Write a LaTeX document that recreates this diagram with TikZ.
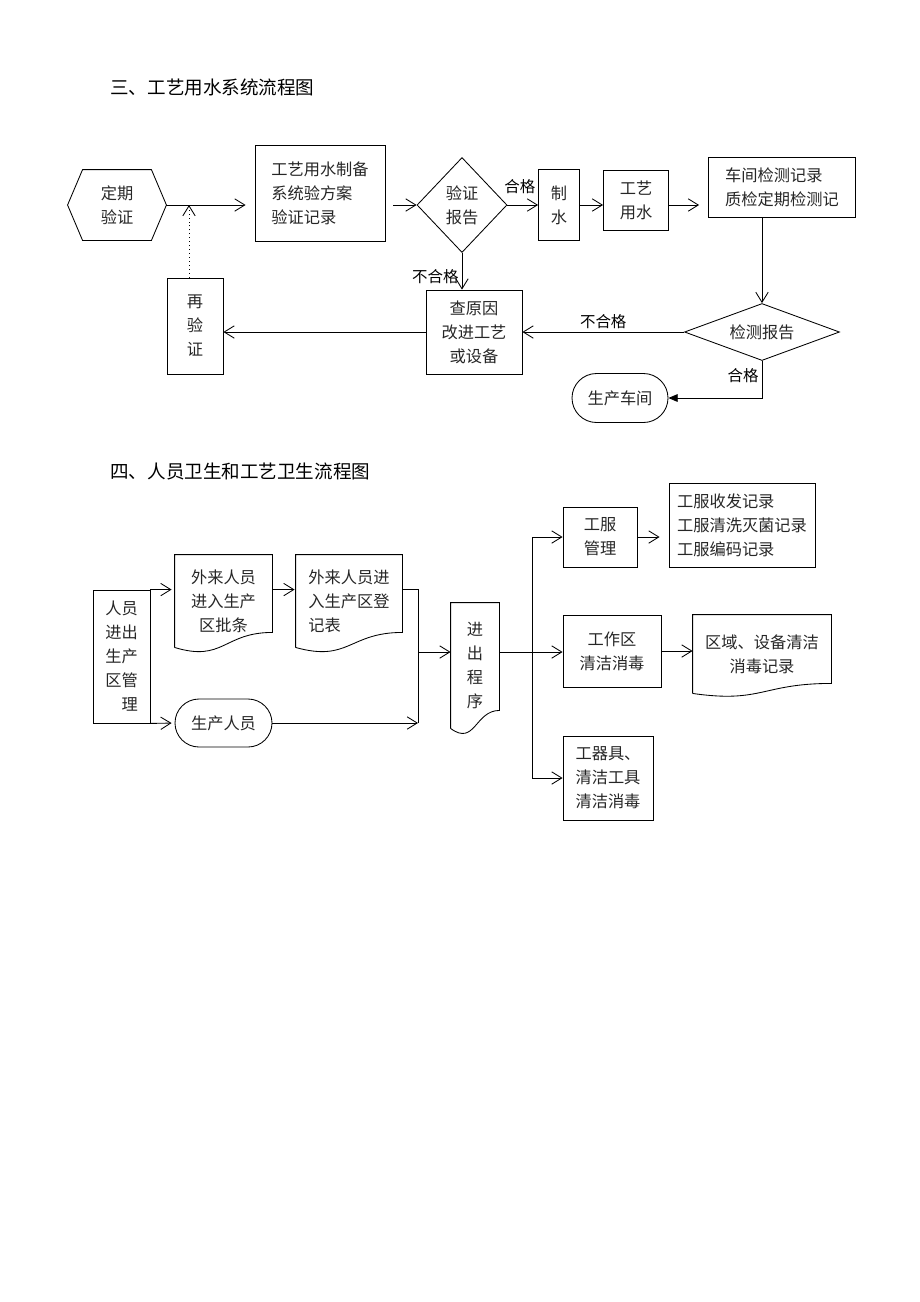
\documentclass[tikz,border=0pt]{standalone}
\usepackage{fontspec}
\newfontfamily\cjk{Noto Sans CJK SC}
\usetikzlibrary{shapes.geometric,shapes.misc,calc,arrows.meta}
\newcommand{\sz}{0.6467pt}
\newcommand{\docpath}[2]{\draw (#1.south west) -- (#1.north west) -- (#1.north east) -- ($(#1.south east)+(0,-#2)$) .. controls ($(#1.south)+(0,-#2)$) and ($(#1.south)+(0,#2)$) .. (#1.south west);}

\begin{document}
\begin{tikzpicture}[x=\sz, y=-\sz, line width=0.55pt,
  box/.style={draw, inner sep=0pt, align=center, text=black!85, font=\cjk\fontsize{10.5pt}{15.5pt}\selectfont},
  sized/.style 2 args={minimum width=#1*\sz, minimum height=#2*\sz},
  hexa/.style={draw=none},
  docu/.style={draw=none},
  lbl/.style={font=\cjk\fontsize{10pt}{12pt}\selectfont, inner sep=2pt},
  head/.style={font=\cjk\fontsize{12pt}{14pt}\selectfont, inner sep=0pt},
  flow/.style={-{Straight Barb[length=6.5pt,width=8pt]}}]
\useasboundingbox (0,0) rectangle (920,1302);

% water system
\node[head, anchor=west] (t1) at (110,87) {三、工艺用水系统流程图};
\node[box, hexa, sized={98}{70}] (dq) at (117,205) {定期\\验证};
\draw (dq.west) -- ([xshift=15*\sz]dq.north west) -- ([xshift=-15*\sz]dq.north east) -- (dq.east) -- ([xshift=-15*\sz]dq.south east) -- ([xshift=15*\sz]dq.south west) -- cycle;
\node[box, sized={130}{96}, align=left] (fa) at (320,193) {工艺用水制备\\系统验方案\\验证记录};
\node[box, diamond, aspect=1, sized={90}{95}] (yz) at (462,205) {验证\\报告};
\node[box, sized={41}{71}] (zs) at (559,205) {制\\水};
\node[box, sized={65}{60}] (gy) at (636,200) {工艺\\用水};
\node[box, sized={147}{60}, align=left] (cj) at (782,187) {车间检测记录\\质检定期检测记};
\node[box, diamond, aspect=2.7, sized={155}{57}] (jc) at (762,332) {检测报告};
\node[box, sized={96}{84}] (cy) at (474,332) {查原因\\改进工艺\\或设备};
\node[box, sized={56}{96}] (zy) at (195,326) {再\\验\\证};
\node[box, rounded rectangle, sized={96}{49}] (sc) at (620,398) {生产车间};

\draw[flow, shorten >=9*\sz] (dq.east) -- (dq.east -| fa.west);
\draw[flow, dotted] ([xshift=-6*\sz]zy.north) -- ([xshift=-6*\sz]zy.north |- dq.east);
\draw[flow, shorten <=8*\sz] (fa.east |- yz.west) -- (yz.west);
\draw[flow] (yz.east) -- node[lbl, above, yshift=8*\sz, xshift=-3*\sz] (hg1) {合格} (yz.east -| zs.west);
\draw[flow] (zs.east) -- (zs.east -| gy.west);
\draw[flow, shorten >=9*\sz] (zs.east -| gy.east) -- (zs.east -| cj.west);
\draw[flow] (jc.north |- cj.south) -- (jc.north);
\draw[flow] (jc.west) -- node[lbl, above] (bhg2) {不合格} (jc.west -| cy.east);
\draw[flow] (yz.south) -- node[lbl, left, pos=0.65] (bhg1) {不合格} (yz.south |- cy.north);
\draw[flow] (cy.west) -- (cy.west -| zy.east);
\draw[-{Triangle[length=6pt,width=5pt]}] (jc.south) |- node[lbl, left, pos=0.2] (hg2) {合格} (sc.east);

% hygiene
\node[head, anchor=west] (t2) at (110,471) {四、人员卫生和工艺卫生流程图};
\node[box, sized={57}{133}] (ry) at (121.5,656.5) {人员\\进出\\生产\\区管\\\hphantom{区}理};
\node[box, docu, sized={97}{92}] (wl1) at (223.5,601) {外来人员\\进入生产\\区批条};
\docpath{wl1}{15}
\node[box, docu, sized={106}{92}, align=left] (wl2) at (349,601) {外来人员进\\入生产区登\\记表};
\docpath{wl2}{15}
\node[box, rounded rectangle, sized={97}{48}] (sr) at (223.5,723) {生产人员};
\node[box, docu, sized={48}{125}] (cx) at (475,665.5) {进\\出\\程\\序};
\docpath{cx}{18}
\node[box, sized={74}{60}] (gf) at (600,537) {工服\\管理};
\node[box, sized={146}{84}, align=left] (gfjl) at (742,525) {工服收发记录\\工服清洗灭菌记录\\工服编码记录};
\node[box, sized={98}{72}] (gzq) at (612,651) {工作区\\清洁消毒};
\node[box, docu, sized={138}{78}] (qy) at (762,654) {区域、设备清洁\\消毒记录};
\docpath{qy}{10}
\node[box, sized={90}{84}, align=left] (gqj) at (608,778) {工器具、\\清洁工具\\清洁消毒};

\coordinate (mg) at (418,652);
\coordinate (br) at (532,652);
\draw[flow, shorten >=3*\sz] (ry.north east) -- (ry.north east -| wl1.west);
\draw[flow, shorten >=3*\sz] (ry.south east) -- (sr.west);
\draw[flow, shorten >=1*\sz] (ry.north east -| wl1.east) -- (ry.north east -| wl2.west);
\draw (ry.north east -| wl2.east) -| (mg);
\draw[flow] (sr.east) -- (sr.east -| mg);
\draw (sr.east -| mg) -- (mg);
\draw[flow] (mg) -- (mg -| cx.west);
\draw (br -| cx.east) -- (br);
\draw[flow] (br) |- (gf.west);
\draw[flow] (br) -- (br -| gzq.west);
\draw[flow] (br) |- (gqj.west);
\draw[flow, shorten >=9*\sz] (gf.east) -- (gf.east -| gfjl.west);
\draw[flow] (gzq.east) -- (gzq.east -| qy.west);
\end{tikzpicture}
\end{document}
